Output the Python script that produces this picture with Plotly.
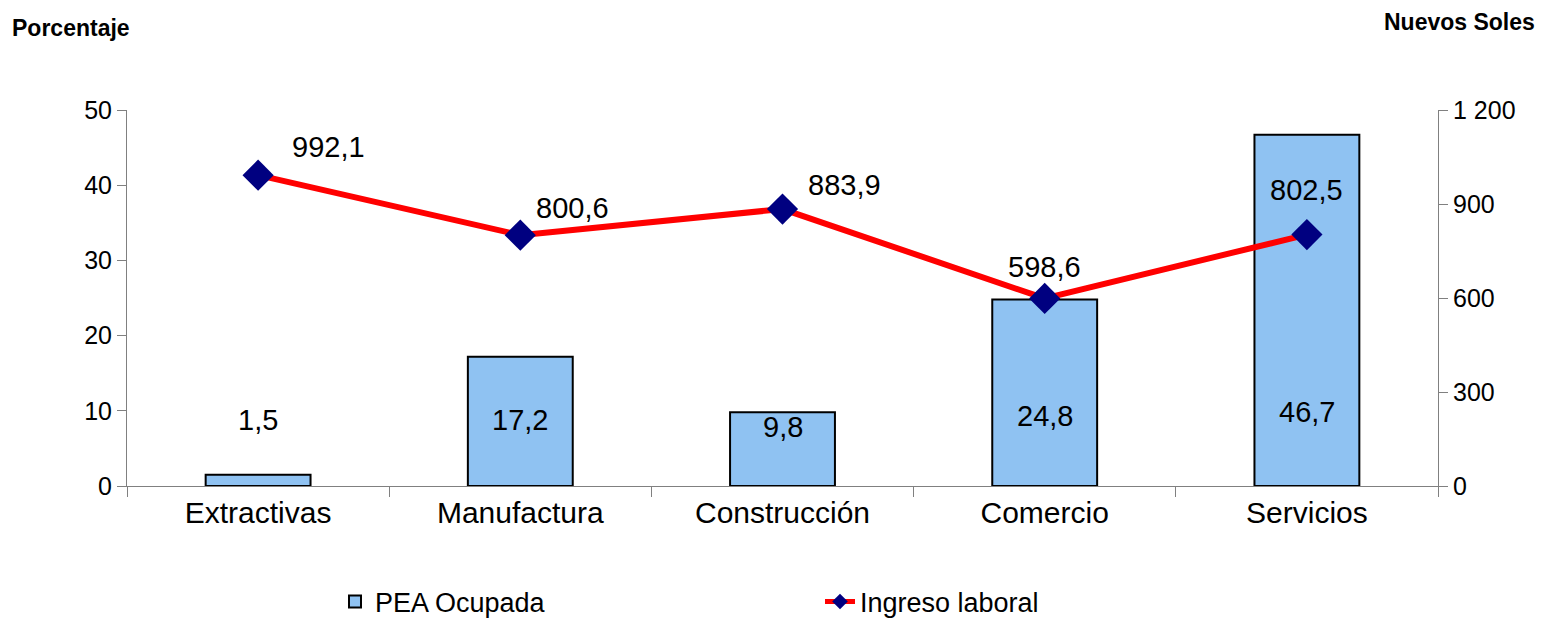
import plotly.graph_objects as go

categories = ["Extractivas", "Manufactura", "Construcción", "Comercio", "Servicios"]
pea_ocupada = [1.5, 17.2, 9.8, 24.8, 46.7]
ingreso_laboral = [992.1, 800.6, 883.9, 598.6, 802.5]
left_ticks = [0, 10, 20, 30, 40, 50]
right_ticks = [0, 300, 600, 900, 1200]
right_tick_labels = ["0", "300", "600", "900", "1 200"]

def fmt(v):
    return f"{v:.1f}".replace(".", ",")

FONT = "Liberation Sans, Arial, sans-serif"

# page body has an 8px margin; figure is sized/placed to compensate
W, H = 1539, 614
L, R, T, B = 119, 109, 102, 136
PW, PH = W - L - R, H - T - B

fig = go.Figure()
fig.add_trace(go.Bar(
    x=categories, y=pea_ocupada, name="PEA Ocupada",
    marker=dict(color="#8FC2F2", line=dict(color="black", width=2)),
    width=0.4, yaxis="y",
))
fig.add_trace(go.Scatter(
    x=categories, y=ingreso_laboral, name="Ingreso laboral",
    mode="lines+markers", yaxis="y2",
    line=dict(color="#FF0000", width=6),
    marker=dict(symbol="diamond", size=24, color="#000080"),
))

annotations = []
bar_label_shift = [0, 0, -7, 4, 8]
for c, v, s in zip(categories, pea_ocupada, bar_label_shift):
    annotations.append(dict(x=c, y=8.8, xref="x", yref="y", text=fmt(v), yshift=s,
                            showarrow=False, font=dict(size=29, color="black", family=FONT)))
offsets = [(70, 28), (52, 27), (62, 24), (0, 31), (0, 45)]
for c, v, (dx, dy) in zip(categories, ingreso_laboral, offsets):
    annotations.append(dict(x=c, y=v, xref="x", yref="y2", text=fmt(v),
                            showarrow=False, xshift=dx, yshift=dy,
                            font=dict(size=29, color="black", family=FONT)))
annotations.append(dict(x=(2 - L) / PW, y=1 + (T - 20) / PH, xref="paper", yref="paper",
                        text="<b>Porcentaje</b>", showarrow=False, xanchor="left", yanchor="middle",
                        font=dict(size=23, color="black", family=FONT)))
annotations.append(dict(x=1 + (W - 10 - L - PW) / PW, y=1 + (T - 14) / PH, xref="paper", yref="paper",
                        text="<b>Nuevos Soles</b>", showarrow=False, xanchor="right", yanchor="middle",
                        font=dict(size=23, color="black", family=FONT)))

fig.update_layout(
    width=W, height=H,
    margin=dict(l=L, r=R, t=T, b=B, autoexpand=False),
    paper_bgcolor="white", plot_bgcolor="white",
    font=dict(family=FONT, color="black"),
    showlegend=True,
    legend=dict(orientation="h", x=(327 - L) / PW, xanchor="left", y=-(594 - (T + PH)) / PH,
                yanchor="middle",
                font=dict(size=27, family=FONT), entrywidth=440, entrywidthmode="pixels",
                itemsizing="constant"),
    annotations=annotations,
    xaxis=dict(range=[-0.5, 4.5], showline=True, linecolor="#808080", linewidth=1,
               ticks="outside", tickson="boundaries", ticklen=10, tickcolor="#808080",
               tickfont=dict(size=30, family=FONT), showgrid=False, zeroline=False,
               automargin=False),
    yaxis=dict(range=[0, 50], tickvals=left_ticks, showline=True, linecolor="#808080",
               ticks="outside", ticklen=9, tickcolor="#808080", showgrid=False, zeroline=False,
               tickfont=dict(size=25, family=FONT), automargin=False),
    yaxis2=dict(range=[0, 1200], tickvals=right_ticks, ticktext=right_tick_labels,
                overlaying="y", side="right", showline=True, linecolor="#808080",
                ticks="outside", ticklen=9, tickcolor="#808080", showgrid=False, zeroline=False,
                tickfont=dict(size=25, family=FONT), automargin=False),
)

fig.write_html("out.html")
